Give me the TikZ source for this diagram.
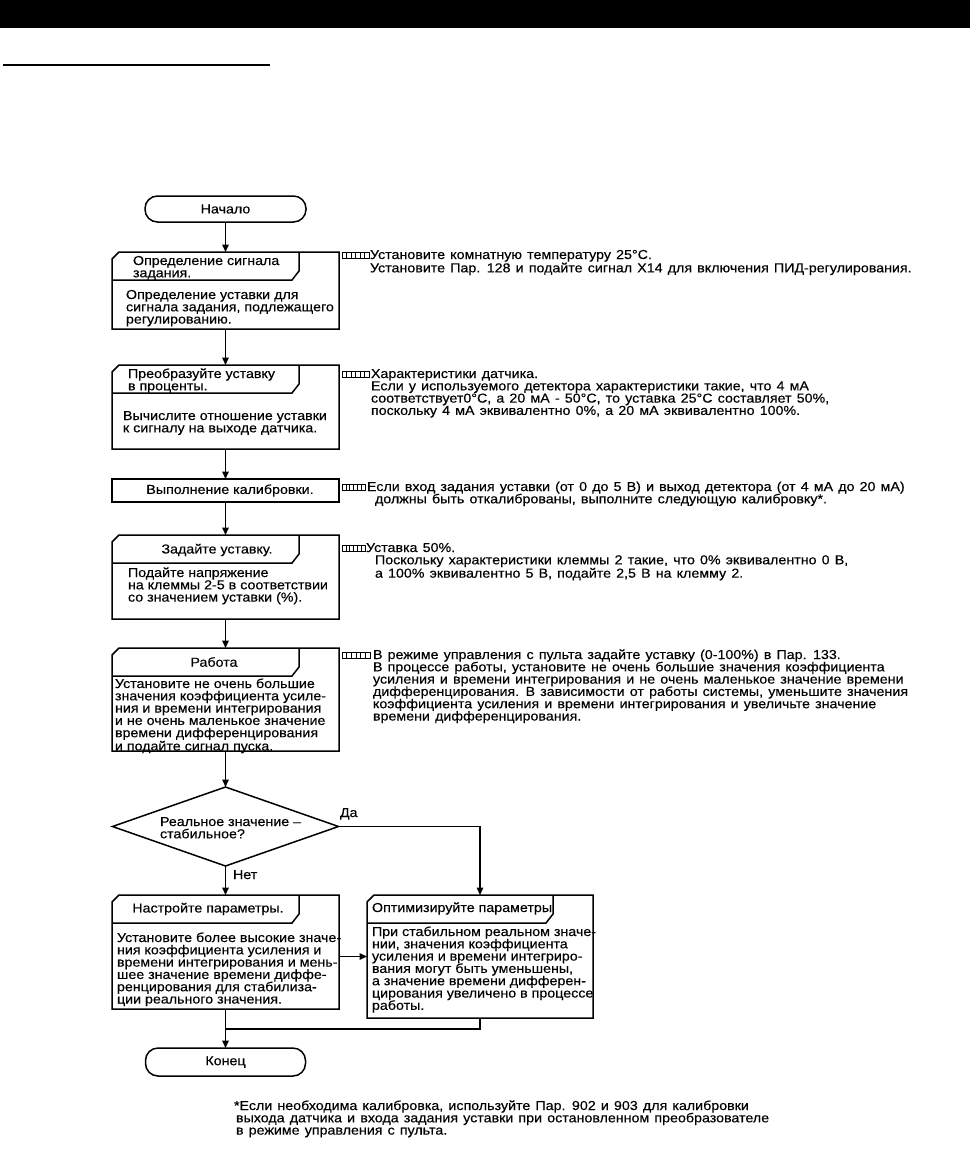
\documentclass[tikz,border=0pt]{standalone}
\usepackage{fontspec}
\setmainfont{Liberation Sans}[FakeStretch=1.096,FakeBold=0.3]
\newfontfamily\annfont{Liberation Sans}[FakeStretch=1.096,FakeBold=0.3,WordSpace=1.3]
\usetikzlibrary{arrows.meta,shapes.geometric}
\newcommand\fs{\rule{0pt}{10pt}}
\newcommand\tabbox[1]{%
  \draw[boxline] ([yshift=-7pt]#1.north west) -- ([xshift=7pt]#1.north west) -- (#1.north east) -- (#1.south east) -- (#1.south west) -- cycle;
  \draw[boxline] ([yshift=-28pt]#1.north west) -- ([xshift=-47pt,yshift=-28pt]#1.north east) -- ([xshift=-40pt,yshift=-19pt]#1.north east) -- ([xshift=-40pt]#1.north east);}
\newcommand\annicon[3]{% x, y centre, width
  \draw[line width=0.8pt] (#1,#2-3) rectangle (#1+#3,#2+3.5);
  \foreach \k in {1,...,5} \draw[line width=0.6pt] (#1+\k*#3/6,#2-3) -- (#1+\k*#3/6,#2+3.5);}
\begin{document}
\begin{tikzpicture}[x=1pt,y=-1pt,
  every node/.style={inner sep=0pt, outer sep=0pt},
  txt/.style={font=\fontsize{13}{12.3}\selectfont, align=left, anchor=north west},
  atxt/.style={font=\annfont\fontsize{13}{12.3}\selectfont, align=left, anchor=north west},
  ctxt/.style={font=\fontsize{13}{12.3}\selectfont},
  boxline/.style={line width=1.5pt},
  frame/.style={draw=none},
  term/.style={draw, boxline, rounded corners=12.5pt, ctxt},
  arr/.style={line width=1.5pt, -{Triangle[length=7.5pt,width=6.5pt]}},
  plain/.style={line width=1.5pt}]
\useasboundingbox (0,0) rectangle (970,1157);
\fill[black] (0,0) rectangle (970,28);
\draw[line width=2.5pt] (3,65) -- (270,65);

% terminals
\node[term, minimum width=161pt, minimum height=26pt] (start) at (225.5,209) {Начало};
\node[term, minimum width=160pt, minimum height=28pt] (konec) at (225.5,1062) {Конец};

% frames
\node[frame, minimum width=227pt, minimum height=77pt] (b1) at (225.5,290.5) {};
\node[frame, minimum width=227pt, minimum height=84pt] (b2) at (225.5,407) {};
\node[draw, boxline, minimum width=227pt, minimum height=23pt] (cal) at (225.5,490.5) {};
\node[frame, minimum width=227pt, minimum height=84pt] (b4) at (225.5,577) {};
\node[frame, minimum width=227pt, minimum height=103pt] (b5) at (225.5,699.5) {};
\node[draw, boxline, diamond, minimum width=226pt, minimum height=79pt] (dia) at (225.5,826.5) {};
\node[frame, minimum width=227pt, minimum height=114pt] (b6) at (225.5,952) {};
\node[frame, minimum width=226pt, minimum height=123pt] (opt) at (480,956.5) {};
\tabbox{b1}\tabbox{b2}\tabbox{b4}\tabbox{b5}\tabbox{b6}\tabbox{opt}

% texts in boxes
\node[txt] (t1h) at (133,255) {\fs Определение сигнала\\задания.};
\node[txt] (t1b) at (126,289) {\fs Определение уставки для\\сигнала задания, подлежащего\\регулированию.};
\node[txt] (t2h) at (128,368) {\fs Преобразуйте уставку\\в проценты.};
\node[txt] (t2b) at (123,410) {\fs Вычислите отношение уставки\\к сигналу на выходе датчика.};
\node[ctxt] (tcal) at (230,490.5) {Выполнение калибровки.};
\node[ctxt] (t4h) at (217,550) {Задайте уставку.};
\node[txt] (t4b) at (128,567) {\fs Подайте напряжение\\на клеммы 2-5 в соответствии\\со значением уставки (\%).};
\node[ctxt] (t5h) at (214,662) {Работа};
\node[txt] (t5b) at (115,678) {\fs Установите не очень большие\\значения коэффициента усиле-\\ния и времени интегрирования\\и не очень маленькое значение\\времени дифференцирования\\и подайте сигнал пуска.};
\node[txt] (tdia) at (160,816) {\fs Реальное значение –\\стабильное?};
\node[ctxt] (t6h) at (208,909) {Настройте параметры.};
\node[txt] (t6b) at (117,932) {\fs Установите более высокие значе-\\ния коэффициента усиления и\\времени интегрирования и мень-\\шее значение времени диффе-\\ренцирования для стабилиза-\\ции реального значения.};
\node[txt] (toh) at (372,902) {\fs Оптимизируйте параметры};
\node[txt] (tob) at (372,926) {\fs При стабильном реальном значе-\\нии, значения коэффициента\\усиления и времени интегриро-\\вания могут быть уменьшены,\\а значение времени дифферен-\\цирования увеличено в процессе\\работы.};

% connectors
\coordinate (merge) at (225.5,1029);
\coordinate (yes) at (480,826.5);
\draw[arr] (start) -- (b1);
\draw[arr] (b1) -- (b2);
\draw[arr] (b2) -- (cal);
\draw[arr] (cal) -- (b4);
\draw[arr] (b4) -- (b5);
\draw[arr] (b5) -- (dia);
\draw[arr] (dia) -- (b6);
\draw[arr] (dia.east) -- (yes) -- (opt.north);
\draw[arr] (b6.east |- opt.west) -- (opt.west);
\draw[plain] (opt.south) -- (opt.south |- merge) -- (merge);
\draw[arr] (b6) -- (konec);
\node[txt] (lda) at (340,807) {\fs Да};
\node[txt] (lnet) at (233,869) {\fs Нет};

% annotations
\annicon{342}{255}{27}
\node[atxt] (a1) at (370,249) {\fs Установите комнатную температуру 25°C.\\Установите Пар. 128 и подайте сигнал X14 для включения ПИД-регулирования.};
\annicon{342}{374}{27}
\node[atxt] (a2) at (371,368) {\fs Характеристики датчика.\\Если у используемого детектора характеристики такие, что 4 мА\\соответствует0°C, а 20 мА - 50°C, то уставка 25°C составляет 50\%,\\поскольку 4 мА эквивалентно 0\%, а 20 мА эквивалентно 100\%.};
\annicon{342}{487}{23}
\node[atxt] (a3) at (367,481) {\fs Если вход задания уставки (от 0 до 5 В) и выход детектора (от 4 мА до 20 мА)\\\hspace*{8pt}должны быть откалиброваны, выполните следующую калибровку*.};
\annicon{342}{548}{23}
\node[atxt] (a4) at (366,542) {\fs Уставка 50\%.\\\hspace*{9pt}Поскольку характеристики клеммы 2 такие, что 0\% эквивалентно 0 В,\\\hspace*{9pt}а 100\% эквивалентно 5 В, подайте 2,5 В на клемму 2.};
\annicon{342}{655}{28}
\node[atxt] (a5) at (373,649) {\fs В режиме управления с пульта задайте уставку (0-100\%) в Пар. 133.\\В процессе работы, установите не очень большие значения коэффициента\\усиления и времени интегрирования и не очень маленькое значение времени\\дифференцирования. В зависимости от работы системы, уменьшите значения\\коэффициента усиления и времени интегрирования и увеличьте значение\\времени дифференцирования.};

% footnote
\node[atxt] (fn) at (234,1100) {\fs *Если необходима калибровка, используйте Пар. 902 и 903 для калибровки\\\hspace*{2pt}выхода датчика и входа задания уставки при остановленном преобразователе\\\hspace*{2pt}в режиме управления с пульта.};
\end{tikzpicture}
\end{document}
